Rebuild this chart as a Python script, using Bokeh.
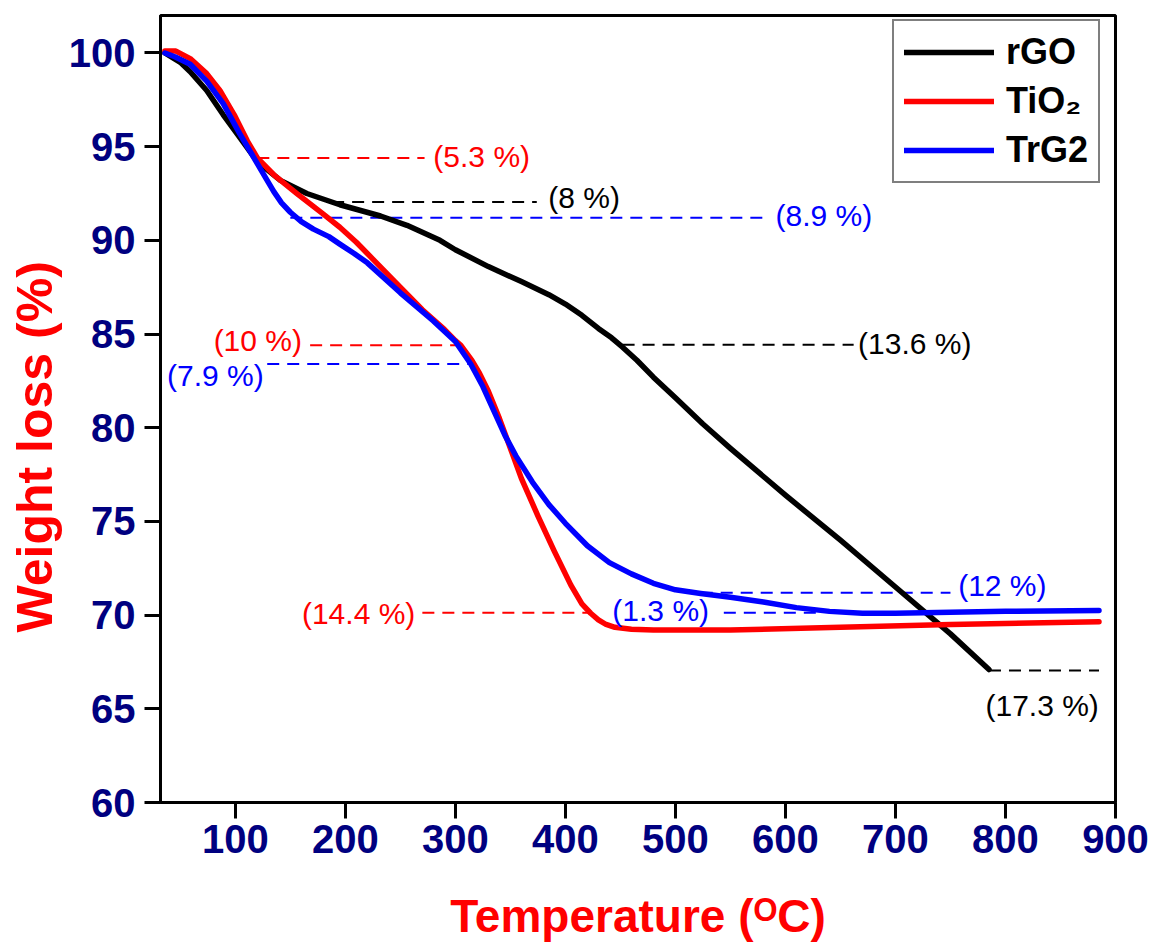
from bokeh.embed import file_html
from bokeh.models import FixedTicker, Legend, LegendItem, Range1d, Title
from bokeh.core.properties import value
from bokeh.plotting import figure
from bokeh.resources import INLINE

# ---- TGA curves: temperature (°C) vs remaining weight (%) ----
rgo_temp = [36, 50, 59, 74, 89, 104, 120, 141, 165, 195, 232, 256, 286, 300,
            330, 360, 385, 400, 415, 430, 442, 452, 465, 480, 500, 525, 550,
            600, 650, 700, 750, 785]
rgo_wt = [100.0, 99.5, 99.0, 98.0, 96.7, 95.5, 94.2, 93.2, 92.5, 91.9, 91.3,
          90.8, 90.0, 89.5, 88.6, 87.8, 87.1, 86.6, 86.0, 85.3, 84.8, 84.3,
          83.6, 82.7, 81.6, 80.2, 78.9, 76.4, 74.0, 71.5, 69.0, 67.1]

tio2_temp = [36, 46, 59, 74, 86, 99, 111, 120, 135, 156, 180, 195, 210, 225,
             245, 270, 290, 300, 305, 310, 315, 322, 330, 340, 350, 360, 375,
             390, 405, 415, 423, 430, 437, 445, 460, 480, 550, 650, 750, 885]
tio2_wt = [100.1, 100.1, 99.7, 98.9, 98.0, 96.7, 95.3, 94.4, 93.5, 92.5, 91.4,
           90.7, 89.9, 89.0, 87.8, 86.3, 85.25, 84.65, 84.4, 84.0, 83.6, 82.9,
           81.95, 80.5, 78.9, 77.3, 75.3, 73.4, 71.6, 70.6, 70.1, 69.75, 69.5,
           69.35, 69.25, 69.2, 69.2, 69.35, 69.5, 69.65]

trg2_temp = [36, 45, 59, 74, 89, 104, 120, 128, 135, 142, 150, 160, 171, 185,
             195, 208, 220, 250, 280, 300, 314, 325, 335, 345, 355, 370, 385,
             400, 420, 440, 460, 480, 500, 523, 550, 580, 610, 640, 670, 700,
             750, 800, 885]
trg2_wt = [100.0, 99.8, 99.4, 98.5, 97.3, 95.7, 94.1, 93.3, 92.6, 92.0, 91.5,
           91.0, 90.6, 90.2, 89.8, 89.3, 88.8, 87.2, 85.7, 84.6, 83.4, 82.2,
           80.9, 79.6, 78.5, 77.1, 75.9, 74.9, 73.7, 72.8, 72.2, 71.7, 71.35,
           71.15, 70.95, 70.7, 70.4, 70.2, 70.1, 70.1, 70.15, 70.2, 70.25]

series_names = ["rGO", "TiO\u2082", "TrG2"]
series_colors = ["#000000", "#FF0000", "#0000FF"]

# ---- step markers: dashed guide + weight-loss label ----
step_x0 = [120, 188, 150, 168, 129, 452, 270, 544, 523, 785]
step_x1 = [272, 374, 582, 304.5, 313.6, 662, 423, 632, 750, 885]
step_y = [94.4, 92.05, 91.2, 84.4, 83.4, 84.43, 70.13, 70.13, 71.2, 67.05]
step_color = ["#FF0000", "#000000", "#0000FF", "#FF0000", "#0000FF",
              "#000000", "#FF0000", "#0000FF", "#0000FF", "#000000"]

label_text = ["(5.3 %)", "(8 %)", "(8.9 %)", "(10 %)", "(7.9 %)", "(13.6 %)",
              "(14.4 %)", "(1.3 %)", "(12 %)", "(17.3 %)"]
label_x = [280, 384.5, 591, 160.6, 37.9, 666, 263.6, 442.7, 757, 781.8]
label_y = [94.5, 92.27, 91.3, 84.64, 82.77, 84.48, 70.08, 70.24, 71.57, 65.17]
label_align = ["left", "left", "left", "right", "left", "left", "right",
               "left", "left", "left"]

x_ticks = [100, 200, 300, 400, 500, 600, 700, 800, 900]
y_ticks = [60, 65, 70, 75, 80, 85, 90, 95, 100]

FONT = "Liberation Sans"
NAVY = "#000080"
RED = "#FF0000"

p = figure(width=1150, height=948, output_backend="svg", toolbar_location=None,
           x_range=Range1d(32, 900), y_range=Range1d(60, 102),
           min_border_left=160, min_border_right=35, min_border_top=15,
           min_border_bottom=146)
p.background_fill_color = "white"
p.border_fill_color = "white"
p.grid.visible = False
p.outline_line_color = "black"
p.outline_line_width = 3
p.outline_line_alpha = 1.0

for ax, ticks in ((p.xaxis, x_ticks), (p.yaxis, y_ticks)):
    ax.ticker = FixedTicker(ticks=ticks)
    ax.axis_line_width = 3
    ax.major_tick_line_width = 3
    ax.major_tick_out = 16
    ax.major_tick_in = 0
    ax.minor_tick_line_color = None
    ax.major_label_text_font = FONT
    ax.major_label_text_font_style = "bold"
    ax.major_label_text_font_size = "40px"
    ax.major_label_text_color = NAVY
p.xaxis.major_label_standoff = 6
p.yaxis.major_label_standoff = 9

# x-axis title with the degree "O" as a modifier letter
p.xaxis.axis_label = "Temperature (\u1D3CC)"
p.xaxis.axis_label_text_font = FONT
p.xaxis.axis_label_text_font_style = "bold"
p.xaxis.axis_label_text_font_size = "46px"
p.xaxis.axis_label_text_color = RED
p.xaxis.axis_label_standoff = 34

# y-axis title, anchored from the bottom of the frame
p.add_layout(Title(text="Weight loss (%)", align="left", offset=170,
                   text_font=FONT, text_font_style="bold",
                   text_font_size="50px", text_color=RED, standoff=6), "left")

# guides first so the curves sit on top
for x0, x1, y, c in zip(step_x0, step_x1, step_y, step_color):
    p.segment(x0=[x0], y0=[y], x1=[x1], y1=[y], line_color=c, line_width=2,
              line_dash="12 8")

renderers = []
curves = [(rgo_temp, rgo_wt), (tio2_temp, tio2_wt), (trg2_temp, trg2_wt)]
for (t, w), c in zip(curves, series_colors):
    renderers.append(p.line(t, w, line_color=c, line_width=5.5,
                            line_join="round", line_cap="round"))

for txt, x, y, c, al in zip(label_text, label_x, label_y, step_color, label_align):
    p.text(x=[x], y=[y], text=[txt], text_color=c, text_font=value(FONT),
           text_font_size="30px", text_align=al, text_baseline="middle")

legend = Legend(
    items=[LegendItem(label=n, renderers=[r]) for n, r in zip(series_names, renderers)],
    location=(732, 619), margin=0, padding=10, spacing=7,
    glyph_width=90, glyph_height=38, label_standoff=12,
    label_text_font=FONT, label_text_font_style="bold",
    label_text_font_size="36px", label_text_color="black",
    border_line_color="black", border_line_width=2,
    background_fill_color="white", background_fill_alpha=1.0)
p.add_layout(legend)

open("out.html", "w").write(file_html(p, INLINE))
